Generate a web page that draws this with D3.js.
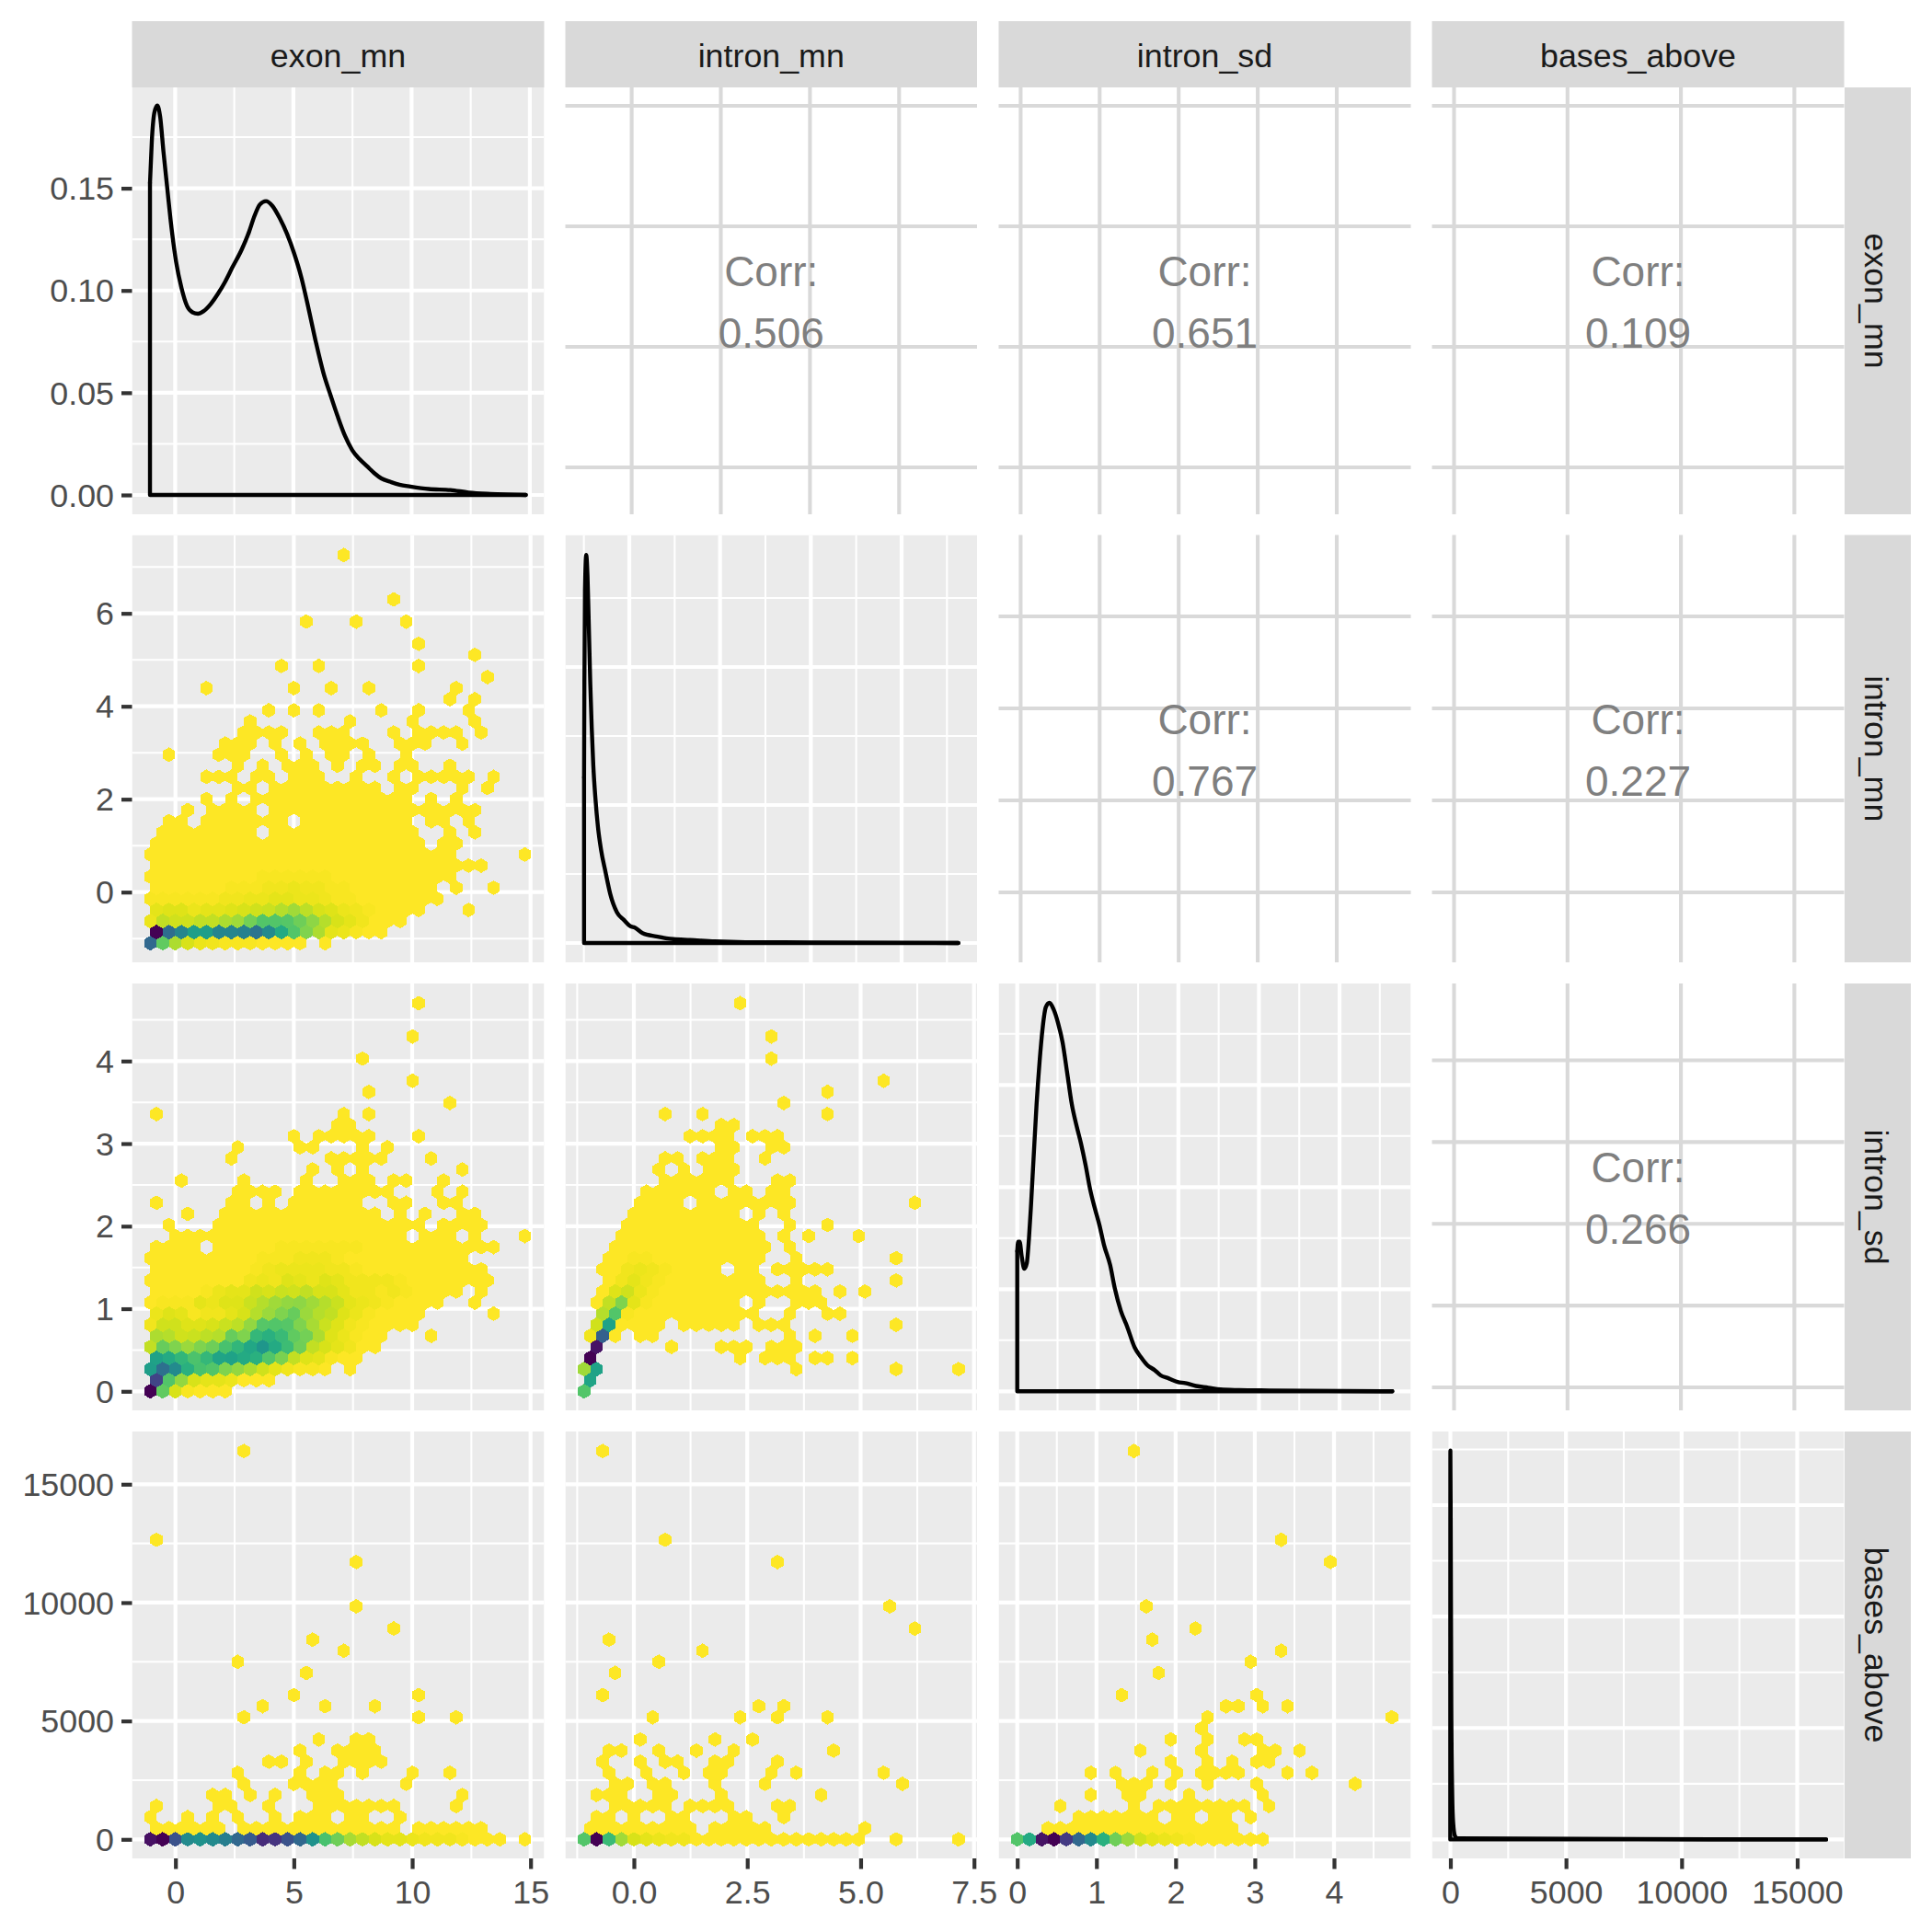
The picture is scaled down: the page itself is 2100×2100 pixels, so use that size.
<!DOCTYPE html>
<html><head><meta charset="utf-8">
<style>html,body{margin:0;padding:0;background:#fff}svg{display:block}text{font-family:"Liberation Sans",Arial,sans-serif}</style>
<script src="https://cdn.jsdelivr.net/npm/d3@7"></script></head><body>
<script>
// ---------- labels ----------
const variables = ["exon_mn","intron_mn","intron_sd","bases_above"];
const corrCells = [
  {row:0,col:1,value:"0.506"},{row:0,col:2,value:"0.651"},{row:0,col:3,value:"0.109"},
  {row:1,col:2,value:"0.767"},{row:1,col:3,value:"0.227"},{row:2,col:3,value:"0.266"}];

// ---------- axis breaks ----------
const exonMajor=[0,5,10,15], exonMinor=[2.5,7.5,12.5];
const intronMnXMajor=[0,2.5,5,7.5], intronMnXMinor=[-1.25,1.25,3.75,6.25];
const intronMnYMajor=[0,2,4,6], intronMnYMinor=[-1,1,3,5,7];
const intronSdMajor=[0,1,2,3,4], intronSdMinor=[0.5,1.5,2.5,3.5,4.5];
const basesMajor=[0,5000,10000,15000], basesMinor=[2500,7500,12500];
const densExonMajor=[0,0.05,0.10,0.15], densExonMinor=[0.025,0.075,0.125,0.175];
const densMnYMajor=[0,0.5,1], densMnYMinor=[0.25,0.75,1.25];
const densSdYMajor=[0,0.25,0.5,0.75], densSdYMinor=[0.125,0.375,0.625,0.875];
const densBaseYMajor=[0,0.001,0.002,0.003], densBaseYMinor=[0.0005,0.0015,0.0025,0.0035];
const diagMnXMajor=[0,2,4,6], diagMnXMinor=[-1,1,3,5,7];

// ---------- densities (value, density) ----------
const densExon=[[-1.065,0.1526],[-0.988,0.173],[-0.88,0.187],[-0.758,0.1905],[-0.635,0.185],[-0.496,0.168],[-0.343,0.151],[-0.189,0.134],[0.04,0.114],[0.272,0.101],[0.503,0.0924],[0.733,0.0893],[0.964,0.0886],[1.194,0.0898],[1.5,0.0933],[1.81,0.0984],[2.12,0.1044],[2.42,0.1113],[2.81,0.1199],[3.12,0.1285],[3.35,0.1363],[3.58,0.142],[3.84,0.1437],[4.11,0.1414],[4.42,0.1354],[4.73,0.1277],[5.03,0.1182],[5.34,0.1062],[5.65,0.0907],[5.96,0.0743],[6.27,0.0597],[6.58,0.0485],[6.88,0.0382],[7.19,0.0287],[7.49,0.0219],[7.8,0.0175],[8.11,0.0141],[8.42,0.0107],[8.72,0.0081],[9.11,0.0064],[9.49,0.005],[9.95,0.0041],[10.72,0.0029],[11.64,0.0024],[12.41,0.0012],[13.34,0.0005],[14.83,0]];
const densIntronMn=[[-0.996,0.6],[-0.989,0.944],[-0.976,1.278],[-0.949,1.406],[-0.921,1.333],[-0.894,1.167],[-0.86,0.944],[-0.827,0.778],[-0.793,0.644],[-0.745,0.522],[-0.691,0.422],[-0.623,0.339],[-0.522,0.256],[-0.42,0.178],[-0.271,0.111],[-0.115,0.083],[0.02,0.061],[0.122,0.056],[0.291,0.036],[0.596,0.024],[0.969,0.014],[1.341,0.011],[1.883,0.006],[2.561,0.003],[3.916,0.002],[7.25,0]];
const densIntronSd=[[0,0.343],[0.011,0.366],[0.03,0.366],[0.057,0.328],[0.088,0.3],[0.118,0.313],[0.145,0.373],[0.171,0.456],[0.202,0.568],[0.24,0.703],[0.278,0.809],[0.316,0.891],[0.354,0.94],[0.4,0.951],[0.449,0.936],[0.506,0.902],[0.563,0.854],[0.62,0.779],[0.677,0.703],[0.735,0.651],[0.792,0.606],[0.849,0.553],[0.906,0.493],[0.963,0.448],[1.02,0.407],[1.077,0.358],[1.153,0.309],[1.21,0.253],[1.286,0.197],[1.363,0.159],[1.458,0.107],[1.534,0.084],[1.61,0.065],[1.705,0.052],[1.781,0.039],[1.876,0.032],[1.99,0.023],[2.086,0.02],[2.219,0.013],[2.371,0.009],[2.523,0.0045],[2.752,0.003],[3.132,0.002],[4.655,0]];
const densBases=[[-5,0.0015],[0,0.00349],[15,0.0028],[40,0.0012],[80,0.0004],[120,0.00015],[200,0.00003],[300,0.00001],[16250,0]];

// ---------- hex bin grids: first bin and bin width in data units ----------
const binExon={start:-1.065,width:0.5274};
const binMnX={start:-1.10,width:0.2753};
const binSdX={start:0,width:0.1551};
const binMnY={start:-1.10,width:0.2387};
const binSdY={start:0,width:0.1343};
const binBaseY={start:0,width:468.6};

// ---------- occupied bins: row -> runs of columns ----------
const binsExonMn={0:[[0,12],[14,14]],1:[[0,18]],2:[[0,20]],3:[[0,21],[25,25]],4:[[0,23]],5:[[0,22],[24,24],[27,27]],6:[[0,24]],7:[[0,26]],8:[[0,24],[30,30]],9:[[0,21],[23,24]],10:[[1,8],[10,21],[24,24],[26,26]],11:[[1,2],[4,10],[12,20],[22,23],[25,25]],12:[[3,3],[5,8],[10,26]],13:[[4,4],[6,6],[8,20],[22,22],[24,24]],14:[[7,8],[10,18],[20,21],[25,25],[27,27]],15:[[4,6],[8,9],[11,13],[16,16],[19,19],[21,25],[27,27]],16:[[7,7],[9,9],[11,13],[15,15],[17,18],[20,21],[24,24]],17:[[1,1],[5,7],[10,10],[12,12],[14,15],[17,17],[20,20]],18:[[6,8],[10,10],[12,12],[14,17],[20,22],[25,25]],19:[[7,10],[13,15],[19,19],[21,24],[26,26]],20:[[8,8],[16,16],[21,21],[26,26]],21:[[9,9],[11,11],[13,13],[18,18],[21,21],[25,25]],22:[[24,24],[26,26]],23:[[4,4],[11,11],[14,14],[17,17],[24,24]],24:[[27,27]],25:[[10,10],[13,13],[21,21]],26:[[26,26]],27:[[21,21]],29:[[12,12],[16,16],[20,20]],31:[[19,19]],35:[[15,15]]};
const binsExonSd={0:[[0,6]],1:[[0,9]],2:[[0,14],[16,16]],3:[[0,16]],4:[[0,18]],5:[[0,18],[22,22]],6:[[0,21]],7:[[0,21],[27,27]],8:[[0,23],[26,26]],9:[[0,24],[26,26]],10:[[0,27]],11:[[0,26]],12:[[0,25]],13:[[0,3],[5,27]],14:[[2,20],[22,24],[26,26],[30,30]],15:[[1,1],[5,21],[23,26]],16:[[3,3],[6,18],[20,20],[22,22],[25,26]],17:[[0,0],[6,7],[9,9],[11,16],[19,20],[23,24]],18:[[7,10],[12,19],[23,23],[25,25]],19:[[2,2],[7,7],[12,12],[15,17],[19,20],[23,23]],20:[[13,13],[15,15],[17,17],[25,25]],21:[[6,6],[14,18],[22,22]],22:[[7,7],[12,13],[17,17],[19,19]],23:[[11,11],[13,17],[21,21]],24:[[15,16]],25:[[0,0],[15,15],[17,17]],26:[[24,24]],27:[[17,17]],28:[[21,21]],30:[[17,17]],32:[[21,21]],35:[[21,21]]};
const binsMnSd={0:[[0,0]],1:[[0,0]],2:[[0,1],[17,17],[25,25],[30,30]],3:[[0,0],[12,12],[14,16],[18,19],[21,21]],4:[[1,1],[7,7],[11,13],[15,17]],5:[[0,2],[4,5],[16,16],[18,18],[21,21]],6:[[1,6],[8,12],[14,16],[25,25]],7:[[1,13],[16,16],[19,20]],8:[[1,12],[14,14],[17,19]],9:[[1,18],[20,20],[22,22]],10:[[2,14],[17,17],[25,25]],11:[[1,10],[12,13],[15,19]],12:[[2,14],[17,17],[25,25]],13:[[2,14],[16,16]],14:[[3,14],[16,16],[18,18],[22,22]],15:[[3,13],[16,16],[19,19]],16:[[4,12],[14,14],[16,16]],17:[[4,7],[9,16],[26,26]],18:[[5,10],[12,13],[15,16]],19:[[6,11],[15,16]],20:[[6,6],[8,8],[10,12]],21:[[6,7],[9,11],[14,14]],22:[[11,12],[15,16]],23:[[8,11],[13,15]],24:[[11,12]],25:[[6,6],[9,9],[19,19]],26:[[16,16]],27:[[19,19]],28:[[24,24]],30:[[15,15]],32:[[15,15]],35:[[12,12]]};
const binsExonBase={0:[[0,28],[30,30]],1:[[0,5],[7,19],[21,26]],2:[[0,0],[3,3],[5,5],[7,7],[10,10],[12,14],[16,17],[20,20]],3:[[0,0],[5,6],[9,9],[13,19],[24,24]],4:[[5,6],[8,8],[10,10],[13,15],[25,25]],5:[[7,7],[11,14],[20,20]],6:[[7,7],[12,12],[14,15],[17,17],[21,21],[24,24]],7:[[9,10],[12,12],[15,18]],8:[[12,12],[15,18]],9:[[13,13],[16,17]],11:[[7,7],[21,21],[24,24]],12:[[9,9],[14,14],[18,18]],13:[[11,11],[21,21]],15:[[12,12]],16:[[7,7]],17:[[15,15]],18:[[13,13]],19:[[19,19]],21:[[16,16]],25:[[16,16]],27:[[0,0]],35:[[7,7]]};
const binsMnBase={0:[[0,22],[25,25],[30,30]],1:[[0,8],[10,14],[22,22]],2:[[1,2],[4,4],[7,8],[12,13],[16,16]],3:[[2,6],[8,11],[15,16]],4:[[1,3],[6,7],[11,11],[19,19]],5:[[2,3],[5,6],[10,10],[14,14],[25,25]],6:[[2,2],[5,5],[8,8],[10,11],[15,15],[17,17],[24,24]],7:[[1,1],[4,4],[6,7],[10,11],[15,15]],8:[[2,3],[6,6],[9,9],[12,12],[20,20]],9:[[4,4],[10,10],[13,13]],11:[[5,5],[12,12],[15,15],[19,19]],12:[[14,14],[16,16]],13:[[1,1]],15:[[2,2]],16:[[6,6]],17:[[9,9]],18:[[2,2]],19:[[26,26]],21:[[24,24]],25:[[15,15]],27:[[6,6]],35:[[1,1]]};
const binsSdBase={0:[[0,20]],1:[[2,17]],2:[[5,11],[13,14],[16,17],[19,19]],3:[[3,3],[9,9],[11,18],[20,20]],4:[[6,6],[9,10],[14,14],[20,20]],5:[[8,10],[12,12],[15,15],[19,19],[27,27]],6:[[6,6],[8,8],[11,11],[13,13],[15,18],[22,22],[24,24]],7:[[12,12],[15,15],[17,17],[19,20]],8:[[10,10],[15,15],[20,21],[23,23]],9:[[12,12],[15,15],[18,19]],10:[[15,15]],11:[[15,15],[30,30]],12:[[17,18],[20,20],[22,22]],13:[[8,8],[19,19]],15:[[11,11]],16:[[19,19]],17:[[21,21]],18:[[11,11]],19:[[14,14]],21:[[10,10]],25:[[25,25]],27:[[21,21]],35:[[9,9]]};

// ---------- bin counts as percent of each panel's peak: row -> [first column, values]; unlisted bins are 1 ----------
const levelsExonMn={0:[0,[67,25,13,7,4,3,2,2,2]],1:[0,[100,65,55,45,45,55,55,57,62,53,40,28,20,13,5,4,2]],2:[0,[4,10,8,8,10,10,13,15,22,28,28,27,23,18,12,7,5,3]],3:[0,[5,6,6,4,5,5,6,7,8,9,12,15,11,7,6,4,3,2]],4:[0,[2,2,2,2,2,2,3,3,4,4,5,5,4,4,3,2,2]],5:[6,[2,2,2,3,3,4,3,3,2,2]],6:[9,[2,2,2,2,2,2]]};
const levelsExonSd={0:[0,[100,25,7,2]],1:[0,[80,28,17,7,5,5,4]],2:[0,[45,64,53,37,30,28,20,17,13,8,5,3,2,2]],3:[0,[43,40,35,29,34,42,43,40,37,28,21,10,6,5,2]],4:[0,[10,24,20,16,20,23,30,35,41,48,40,32,23,10,7,5,3]],5:[0,[13,12,8,9,11,12,24,20,34,37,33,25,22,13,6,4,2]],6:[0,[3,8,8,6,6,7,9,11,17,27,28,27,20,14,9,6,3,2]],7:[0,[4,6,5,2,3,3,5,7,12,16,20,24,16,12,10,6,4,2]],8:[0,[1,2,2,2,5,4,6,6,9,12,15,17,18,15,12,9,5,4,3,2]],9:[4,[2,4,5,5,8,7,9,8,10,7,7,5,3,3,2,3,2]],10:[8,[3,4,3,6,5,4,6,5,3,3,3,3,2]],11:[8,[2,3,4,4,4,4,3,3,2]],12:[9,[2,2,2,3,3,3,2]],13:[10,[2,2,2,2,2,2,2]]};
const levelsMnSd={0:[0,[28]],1:[0,[42]],2:[0,[15,43]],3:[0,[100]],4:[1,[95]],5:[0,[3,70,1]],6:[1,[8,43,1]],7:[1,[12,28,2]],8:[1,[1,10,20,5,2]],9:[1,[1,6,8,4,2]],10:[3,[3,5,3,2]],11:[3,[3,4,3,2]],12:[4,[2,2]]};
const levelsExonBase={0:[0,[96,100,75,53,50,53,58,67,72,88,85,75,67,50,30,23,14,10,7,5,5,4,3,3,3,2]]};
const levelsMnBase={0:[0,[28,100,33,15,7,5,4,3,3]]};
const levelsSdBase={0:[0,[28,40,95,100,83,67,53,37,23,16,8,5,4,3,2]]};

// ---------- layout ----------
const colX=[[143.5,591.5],[614.5,1062],[1085.5,1533.5],[1556.5,2004.5]];
const rowY=[[95,559],[581.5,1046],[1069,1533],[1556,2020]];
const stripTop=[23,95], stripRight=[2005,2077];

// ---------- scales ----------
const xExon=d3.scaleLinear().domain([0,15]).range([190.7,576.7]);
const xMn=d3.scaleLinear().domain([0,7.5]).range([689,1058.7]);
const xSd=d3.scaleLinear().domain([0,4]).range([1105.7,1450]);
const xBase=d3.scaleLinear().domain([0,15000]).range([1576.5,1953.5]);
const yExon=d3.scaleLinear().domain([0,0.15]).range([538,204.6]);
const yMn=d3.scaleLinear().domain([0,6]).range([969.7,666.7]);
const ySd=d3.scaleLinear().domain([0,4]).range([1512.3,1153.3]);
const yBase=d3.scaleLinear().domain([0,15000]).range([1999.3,1613.3]);

const svg=d3.select("body").append("svg").attr("width",2100).attr("height",2100);
svg.append("rect").attr("width",2100).attr("height",2100).attr("fill","#fff");

const viridis=d3.scaleSequential(d3.interpolateViridis).domain([100,1]);
const GREY92="#EBEBEB",GRID="#D9D9D9";
const FONT=35.8;

function lines(g,col,row,xs,ys,xv,yv,w,color){
  const [x0,x1]=colX[col],[y0,y1]=rowY[row];
  g.append("g").selectAll("line").data(yv).join("line")
    .attr("x1",x0).attr("x2",x1).attr("y1",d=>ys(d)).attr("y2",d=>ys(d)).attr("stroke",color).attr("stroke-width",w);
  g.append("g").selectAll("line").data(xv).join("line")
    .attr("y1",y0).attr("y2",y1).attr("x1",d=>xs(d)).attr("x2",d=>xs(d)).attr("stroke",color).attr("stroke-width",w);
}
function panelBase(col,row,xs,ys,xMaj,xMin,yMaj,yMin){
  const [x0,x1]=colX[col],[y0,y1]=rowY[row];
  const cid=`clip-${row}-${col}`;
  svg.append("clipPath").attr("id",cid).append("rect").attr("x",x0).attr("y",y0).attr("width",x1-x0).attr("height",y1-y0);
  const g=svg.append("g").attr("clip-path",`url(#${cid})`);
  g.append("rect").attr("x",x0).attr("y",y0).attr("width",x1-x0).attr("height",y1-y0).attr("fill",GREY92);
  lines(g,col,row,xs,ys,xMin,yMin,2.1,"#fff");
  lines(g,col,row,xs,ys,xMaj,yMaj,4.2,"#fff");
  return g;
}
function hexPanel(col,row,xs,ys,xMaj,xMin,yMaj,yMin,binX,binY,bins,levels){
  const g=panelBase(col,row,xs,ys,xMaj,xMin,yMaj,yMin);
  const w=Math.abs(xs(binX.start+binX.width)-xs(binX.start));
  const r=Math.abs(ys(binY.start+binY.width)-ys(binY.start))*2/3;
  const hex=`M0,${-r}L${w/2},${-r/2}L${w/2},${r/2}L0,${r}L${-w/2},${r/2}L${-w/2},${-r/2}Z`;
  const cells=[];
  Object.keys(bins).forEach(k=>{
    const rw=+k, lv=levels[rw];
    bins[k].forEach(([a,b])=>{
      for(let c=a;c<=b;c++){
        let level=1;
        if(lv&&c>=lv[0]&&c-lv[0]<lv[1].length) level=lv[1][c-lv[0]];
        cells.push({x:binX.start+(c+(rw%2?0.5:0))*binX.width,y:binY.start+rw*binY.width,level});
      }
    });
  });
  g.append("g").selectAll("path").data(cells).join("path")
    .attr("d",hex).attr("transform",d=>`translate(${xs(d.x)},${ys(d.y)})`)
    .attr("fill",d=>viridis(d.level)).attr("shape-rendering","crispEdges");
}
function densityPanel(col,row,xs,ys,xMaj,xMin,yMaj,yMin,data){
  const g=panelBase(col,row,xs,ys,xMaj,xMin,yMaj,yMin);
  const first=data[0][0],last=data[data.length-1][0];
  const style=p=>p.attr("fill","none").attr("stroke","#000").attr("stroke-width",4.4).attr("stroke-linejoin","round").attr("stroke-linecap","round");
  g.append("path").attr("d",d3.line().x(d=>xs(d[0])).y(d=>ys(d[1])).curve(d3.curveMonotoneX)(data)).call(style);
  g.append("path").attr("d",d3.line().x(d=>xs(d[0])).y(d=>ys(d[1]))([[first,data[0][1]],[first,0],[last,0]])).call(style);
}
function corrPanel(col,row,xs,ys,xv,yv,value){
  const [x0,x1]=colX[col],[y0,y1]=rowY[row];
  const g=svg.append("g");
  lines(g,col,row,xs,ys,xv,yv,4.1,GRID);
  const cx=(x0+x1)/2, cy=(y0+y1)/2;
  const t=g.append("g").attr("text-anchor","middle").attr("fill","#7F7F7F").attr("font-size",46);
  t.append("text").attr("x",cx).attr("y",cy-16).text("Corr:");
  t.append("text").attr("x",cx).attr("y",cy+51).text(value);
}

// diagonal
densityPanel(0,0,d3.scaleLinear().domain([0,15]).range([190.4,575.9]),yExon,exonMajor,exonMinor,densExonMajor,densExonMinor,densExon);
densityPanel(1,1,d3.scaleLinear().domain([0,6]).range([684,980]),d3.scaleLinear().domain([0,1]).range([1025,725]),diagMnXMajor,diagMnXMinor,densMnYMajor,densMnYMinor,densIntronMn);
densityPanel(2,2,d3.scaleLinear().domain([0,4]).range([1105.7,1456]),d3.scaleLinear().domain([0,0.75]).range([1512.3,1179.3]),intronSdMajor,intronSdMinor,densSdYMajor,densSdYMinor,densIntronSd);
densityPanel(3,3,xBase,d3.scaleLinear().domain([0,0.003]).range([1999.4,1636]),basesMajor,basesMinor,densBaseYMajor,densBaseYMinor,densBases);

// lower triangle
hexPanel(0,1,xExon,yMn,exonMajor,exonMinor,intronMnYMajor,intronMnYMinor,binExon,binMnY,binsExonMn,levelsExonMn);
hexPanel(0,2,xExon,ySd,exonMajor,exonMinor,intronSdMajor,intronSdMinor,binExon,binSdY,binsExonSd,levelsExonSd);
hexPanel(1,2,xMn,ySd,intronMnXMajor,intronMnXMinor,intronSdMajor,intronSdMinor,binMnX,binSdY,binsMnSd,levelsMnSd);
hexPanel(0,3,xExon,yBase,exonMajor,exonMinor,basesMajor,basesMinor,binExon,binBaseY,binsExonBase,levelsExonBase);
hexPanel(1,3,xMn,yBase,intronMnXMajor,intronMnXMinor,basesMajor,basesMinor,binMnX,binBaseY,binsMnBase,levelsMnBase);
hexPanel(2,3,xSd,yBase,intronSdMajor,intronSdMinor,basesMajor,basesMinor,binSdX,binBaseY,binsSdBase,levelsSdBase);

// upper triangle (grid positions of ggally_cor panels)
const corrX=[null,d3.scaleLinear().domain([0,6]).range([686.6,977.3]),d3.scaleLinear().domain([0,4]).range([1109.4,1453]),d3.scaleLinear().domain([0,15000]).range([1580.5,1950.4])];
const corrY=[d3.scaleLinear().domain([0,15]).range([508,115]),d3.scaleLinear().domain([0,6]).range([970,670]),d3.scaleLinear().domain([0,4]).range([1508,1152.5])];
const corrXBreaks=[null,diagMnXMajor,intronSdMajor,basesMajor];
const corrYBreaks=[exonMajor,intronMnYMajor,intronSdMajor];
corrCells.forEach(c=>corrPanel(c.col,c.row,corrX[c.col],corrY[c.row],corrXBreaks[c.col],corrYBreaks[c.row],c.value));

// strips
variables.forEach((v,i)=>{
  const [x0,x1]=colX[i];
  svg.append("rect").attr("x",x0).attr("y",stripTop[0]).attr("width",x1-x0).attr("height",stripTop[1]-stripTop[0]).attr("fill",GRID);
  svg.append("text").attr("x",(x0+x1)/2).attr("y",72.5).attr("text-anchor","middle").attr("fill","#1A1A1A").attr("font-size",FONT).text(v);
  const [y0,y1]=rowY[i];
  svg.append("rect").attr("x",stripRight[0]).attr("y",y0).attr("width",stripRight[1]-stripRight[0]).attr("height",y1-y0).attr("fill",GRID);
  svg.append("text").attr("transform",`translate(${2027},${(y0+y1)/2}) rotate(90)`).attr("text-anchor","middle").attr("fill","#1A1A1A").attr("font-size",FONT).text(v);
});

// axes
function styleAxis(sel){
  sel.select(".domain").remove();
  sel.selectAll(".tick line").attr("stroke","#333333").attr("stroke-width",4.2);
  sel.selectAll(".tick text").attr("fill","#4D4D4D").attr("font-size",FONT).attr("font-family",'"Liberation Sans",Arial,sans-serif');
}
function bottom(scale,vals,fmt){
  svg.append("g").attr("transform",`translate(0,${rowY[3][1]})`)
    .call(d3.axisBottom(scale).tickValues(vals).tickFormat(fmt).tickSize(11.5).tickPadding(12)).call(styleAxis);
}
function left(scale,vals,fmt){
  svg.append("g").attr("transform",`translate(${colX[0][0]},0)`)
    .call(d3.axisLeft(scale).tickValues(vals).tickFormat(fmt).tickSize(11.5).tickPadding(8)).call(styleAxis)
    .selectAll(".tick text").attr("dy","0.34em");
}
bottom(xExon,exonMajor,d3.format("d"));
bottom(xMn,intronMnXMajor,d3.format(".1f"));
bottom(xSd,intronSdMajor,d3.format("d"));
bottom(xBase,basesMajor,d3.format("d"));
left(yExon,densExonMajor,d3.format(".2f"));
left(yMn,intronMnYMajor,d3.format("d"));
left(ySd,intronSdMajor,d3.format("d"));
left(yBase,basesMajor,d3.format("d"));
</script></body></html>
